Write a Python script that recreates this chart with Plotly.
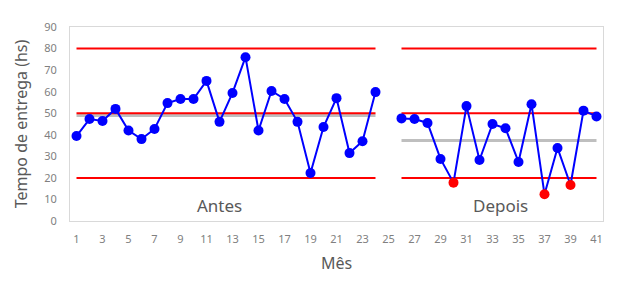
import plotly.graph_objects as go

meses = list(range(1, 42))
tempo = [39.4, 47.3, 46.4, 52, 42, 38, 42.7, 54.7, 56.6, 56.6,
         65, 46, 59.4, 76, 42, 60.3, 56.6, 46, 22.3, 43.6,
         57, 31.5, 37, 59.8, None, 47.6, 47.3, 45.5, 28.8, 17.8,
         53.3, 28.3, 45, 43, 27.4, 54.2, 12.4, 33.9, 16.7, 51.2, 48.5]
fora = [30, 37, 39]

lsc = 80
lc = 50
lic = 20
media_antes = 49
media_depois = 37.4
antes_x = [1, 24]
depois_x = [26, 41]

font = "Segoe UI, Noto Sans, Open Sans, sans-serif"
fig = go.Figure()

for xs, m in [(antes_x, media_antes), (depois_x, media_depois)]:
    fig.add_trace(go.Scatter(x=xs, y=[m, m], mode="lines",
                             line=dict(color="#BFBFBF", width=3), hoverinfo="skip"))
for xs in [antes_x, depois_x]:
    for v in [lsc, lc, lic]:
        fig.add_trace(go.Scatter(x=xs, y=[v, v], mode="lines",
                                 line=dict(color="#FF0000", width=2), hoverinfo="skip"))

cores = ["#FF0000" if m in fora else "#0000FF" for m in meses]
fig.add_trace(go.Scatter(x=meses, y=tempo, mode="lines+markers",
                         line=dict(color="#0000FF", width=2),
                         marker=dict(color=cores, size=10),
                         connectgaps=False))

fig.add_annotation(x=12, y=7, text="Antes", showarrow=False,
                   font=dict(family=font, size=17, color="#595959"))
fig.add_annotation(x=33.6, y=7, text="Depois", showarrow=False,
                   font=dict(family=font, size=17, color="#595959"))

fig.update_layout(
    width=626, height=284,
    margin=dict(l=70, r=23, t=27, b=63),
    paper_bgcolor="white", plot_bgcolor="white",
    showlegend=False,
    font=dict(family=font, color="#808080"),
    xaxis=dict(range=[0.5, 41.5], tickvals=list(range(1, 42, 2)),
               showgrid=False, zeroline=False,
               showline=True, linecolor="#D9D9D9", linewidth=1, mirror=True,
               tickfont=dict(size=11, color="#808080"),
               ticklabelstandoff=8,
               title=dict(text="Mês", font=dict(size=16, color="#595959"), standoff=12)),
    yaxis=dict(range=[0, 90], tickvals=list(range(0, 91, 10)),
               showgrid=False, zeroline=False,
               showline=True, linecolor="#D9D9D9", linewidth=1, mirror=True,
               tickfont=dict(size=11, color="#808080"),
               ticklabelstandoff=10,
               title=dict(text="Tempo de entrega (hs)", font=dict(size=16, color="#595959"),
                          standoff=12)),
)

fig.write_html("out.html")
